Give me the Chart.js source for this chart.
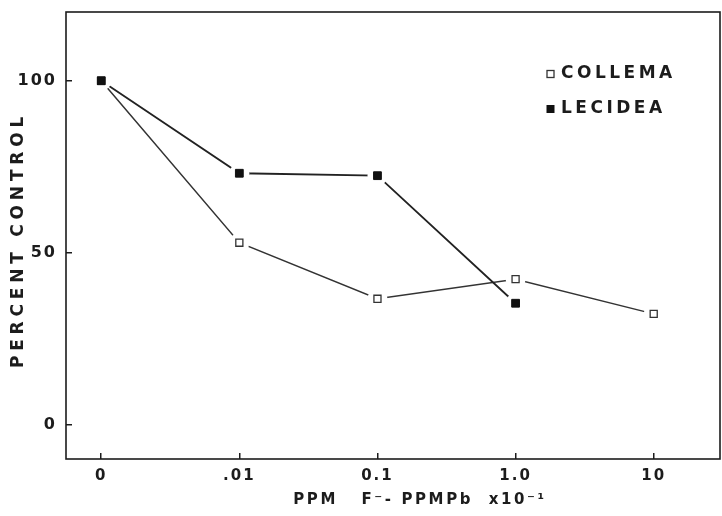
<!DOCTYPE html>
<html>
<head>
<meta charset="utf-8">
<script src="https://cdn.jsdelivr.net/npm/chart.js@4.4.1/dist/chart.umd.min.js"></script>
<style>
  html, body { margin: 0; padding: 0; background: #ffffff; }
  canvas { display: block; }
</style>
</head>
<body>
<canvas id="chart" width="722" height="516"></canvas>
<script>
// Concentration steps along the x axis
const categories = ['0', '.01', '0.1', '1.0', '10'];
// Percent of control for each lichen
const collema = [100, 52.9, 36.6, 42.3, 32.2];
const lecidea = [100, 73.1, 72.4, 35.3];
// Value axis ticks
const yTicks = [0, 50, 100];
const seriesNames = ['COLLEMA', 'LECIDEA'];
const yTitle = 'PERCENT CONTROL';
const xTitle = 'PPM   F\u207B- PPMPb  x10\u207B\u00B9';

const FONT = '"DejaVu Sans", sans-serif';
const INK = '#1c1c1c';
const LINE = '#333333';

const toPoints = values => values.map((v, i) => ({ x: i, y: v }));

// Keep the plot box exactly where the layout padding puts it
const noEdgePadding = s => {
  s.paddingTop = 0; s.paddingBottom = 0; s.paddingLeft = 0; s.paddingRight = 0;
};

// Frame, axis titles and the in-plot key
const decorations = {
  id: 'decorations',
  beforeDraw(chart) {
    chart.ctx.letterSpacing = '2px';
  },
  beforeDatasetsDraw(chart) {
    const { ctx, chartArea: a } = chart;
    ctx.save();
    ctx.strokeStyle = INK;
    ctx.lineWidth = 1.6;
    ctx.strokeRect(a.left, a.top, a.right - a.left, a.bottom - a.top);
    ctx.restore();
  },
  afterDraw(chart) {
    const { ctx } = chart;
    ctx.save();
    ctx.fillStyle = INK;
    ctx.textBaseline = 'middle';

    // vertical title
    ctx.save();
    ctx.font = 'bold 17px ' + FONT;
    ctx.letterSpacing = '4.8px';
    ctx.translate(19, 240);
    ctx.rotate(-Math.PI / 2);
    ctx.textAlign = 'center';
    ctx.fillText(yTitle, 0, 0);
    ctx.restore();

    // horizontal title
    ctx.font = 'bold 15px ' + FONT;
    ctx.letterSpacing = '2.6px';
    ctx.textAlign = 'center';
    ctx.fillText(xTitle, 420, 500);

    // key
    ctx.font = 'bold 17px ' + FONT;
    ctx.letterSpacing = '3.5px';
    ctx.textAlign = 'left';
    const markerSets = [chart.data.datasets[1], chart.data.datasets[0]];
    const rows = [74, 109];
    markerSets.forEach((ds, i) => {
      const y = rows[i];
      ctx.fillStyle = ds.pointBackgroundColor;
      ctx.strokeStyle = ds.pointBorderColor;
      ctx.lineWidth = ds.pointBorderWidth;
      ctx.fillRect(547, y - 3.5, 7, 7);
      ctx.strokeRect(547, y - 3.5, 7, 7);
      ctx.fillStyle = INK;
      ctx.fillText(seriesNames[i], 561, y);
    });
    ctx.restore();
  }
};

const chart = new Chart(document.getElementById('chart'), {
  type: 'line',
  data: {
    datasets: [
      { // filled markers, on top
        label: seriesNames[1], data: toPoints(lecidea), order: 0,
        showLine: false, pointStyle: 'rect', pointRadius: 5.5,
        pointBackgroundColor: '#111111', pointBorderColor: '#111111', pointBorderWidth: 1
      },
      { // open markers
        label: seriesNames[0], data: toPoints(collema), order: 1,
        showLine: false, pointStyle: 'rect', pointRadius: 5,
        pointBackgroundColor: '#ffffff', pointBorderColor: '#333333', pointBorderWidth: 1.3
      },
      { // white clearance around the markers
        label: 'clear-l', data: toPoints(lecidea), order: 2,
        showLine: false, pointStyle: 'circle', pointRadius: 10,
        pointBackgroundColor: '#ffffff', pointBorderWidth: 0
      },
      {
        label: 'clear-c', data: toPoints(collema), order: 3,
        showLine: false, pointStyle: 'circle', pointRadius: 10,
        pointBackgroundColor: '#ffffff', pointBorderWidth: 0
      },
      { // connecting lines
        label: 'line-l', data: toPoints(lecidea), order: 4,
        borderColor: '#222222', borderWidth: 1.8, pointRadius: 0, tension: 0, fill: false
      },
      {
        label: 'line-c', data: toPoints(collema), order: 5,
        borderColor: LINE, borderWidth: 1.5, pointRadius: 0, tension: 0, fill: false
      }
    ]
  },
  options: {
    responsive: false,
    animation: false,
    events: [],
    layout: { autoPadding: false, padding: { top: 12, right: 2, left: 0, bottom: 0 } },
    plugins: { legend: { display: false }, tooltip: { enabled: false } },
    scales: {
      x: {
        type: 'linear',
        min: -0.255,
        max: 4.48,
        afterBuildTicks: s => { s.ticks = categories.map((_, i) => ({ value: i })); },
        afterFit: s => { s.height = 57; noEdgePadding(s); },
        border: { display: false },
        grid: { drawOnChartArea: false, drawTicks: true, tickLength: -6, color: INK, lineWidth: 1.5 },
        ticks: {
          padding: 14,
          color: INK,
          font: { family: FONT, size: 15, weight: 'bold' },
          callback: v => categories[v]
        }
      },
      y: {
        type: 'linear',
        min: -10,
        max: 120,
        afterBuildTicks: s => { s.ticks = yTicks.map(v => ({ value: v })); },
        afterFit: s => { s.width = 66; noEdgePadding(s); },
        border: { display: false },
        grid: { drawOnChartArea: false, drawTicks: true, tickLength: -6, color: INK, lineWidth: 1.5 },
        ticks: {
          padding: 15,
          color: INK,
          font: { family: FONT, size: 16, weight: 'bold' }
        }
      }
    }
  },
  plugins: [decorations]
});
</script>
</body>
</html>
